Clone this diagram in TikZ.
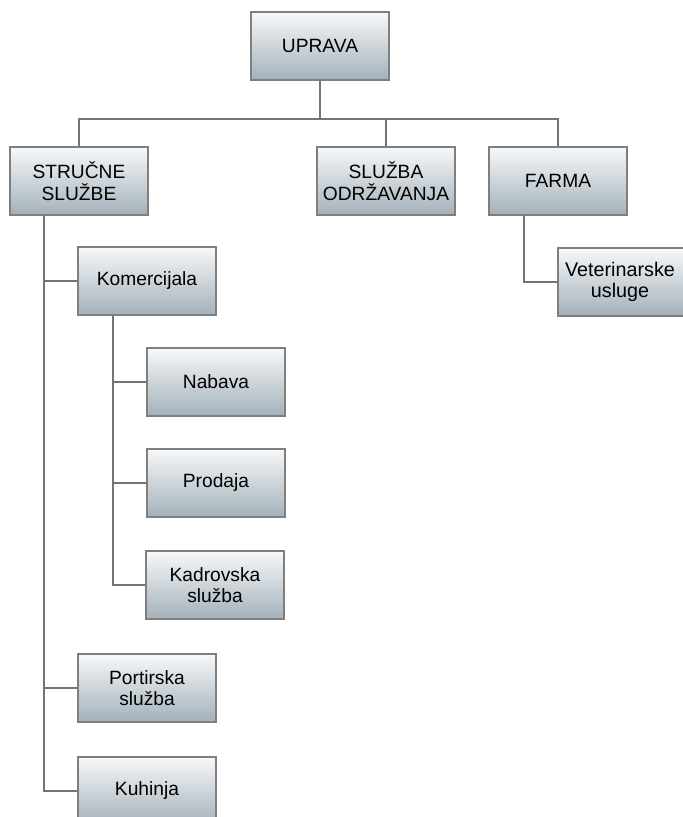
\documentclass[tikz,border=0pt]{standalone}
\usepackage{fontspec}
\setmainfont{Liberation Sans}
\usetikzlibrary{positioning}

\definecolor{boxtop}{HTML}{F6F8F9}
\definecolor{boxbot}{HTML}{A4B1BB}
\definecolor{boxline}{HTML}{7F7F7F}
\definecolor{wire}{HTML}{747474}

\begin{document}
\begin{tikzpicture}[
    x=0.75pt, y=-0.75pt,
    unit/.style={rectangle, draw=boxline, line width=1.4pt, top color=boxtop, bottom color=boxbot,
                 minimum width=103pt, minimum height=50.5pt, inner sep=0pt, align=center,
                 font=\fontsize{14.4}{16.3}\selectfont},
    caption/.style={align=center, inner sep=0pt, font=\fontsize{14.8}{16.3}\selectfont}
    ,conn/.style={draw=wire, line width=1.1pt}
]
    \useasboundingbox (0,0) rectangle (682,817);

    % Top level
    \node[unit] (uprava) at (320, 46) {UPRAVA};
    \coordinate (bus) at (320, 119);

    % Second level
    \node[unit] (strucne) at (79, 181) {STRUČNE\\SLUŽBE};
    \node[unit] (odrz) at (386, 181) {SLUŽBA\\ODRŽAVANJA};
    \node[unit] (farma) at (558, 181) {FARMA};
    \node[unit] (vet) at (627, 282) {};
    \node[caption] (vetlabel) at (620, 282) {Veterinarske\\usluge};

    % Under STRUČNE SLUŽBE
    \node[unit] (komerc) at (147, 281) {Komercijala};
    \node[unit] (nabava) at (216, 382) {Nabava};
    \node[unit] (prodaja) at (216, 483) {Prodaja};
    \node[unit] (kadrov) at (215, 585) {Kadrovska\\služba};
    \node[unit] (portir) at (147, 688) {Portirska\\služba};
    \node[unit] (kuhinja) at (147, 791) {Kuhinja};

    % Trunks
    \coordinate (sTrunk) at (44, 215);
    \coordinate (kTrunk) at (113, 315);
    \coordinate (fTrunk) at (524, 215);

    % Connectors
    \draw[conn] (uprava.south) -- (bus);
    \draw[conn] (strucne.north) |- (bus) -| (farma.north);
    \draw[conn] (odrz.north) -- (odrz.north |- bus);
    \draw[conn] (fTrunk) |- (vet.west);
    \draw[conn] (sTrunk) |- (kuhinja.west);
    \draw[conn] (sTrunk |- komerc.west) -- (komerc.west);
    \draw[conn] (sTrunk |- portir.west) -- (portir.west);
    \draw[conn] (kTrunk) |- (kadrov.west);
    \draw[conn] (kTrunk |- nabava.west) -- (nabava.west);
    \draw[conn] (kTrunk |- prodaja.west) -- (prodaja.west);
\end{tikzpicture}
\end{document}
